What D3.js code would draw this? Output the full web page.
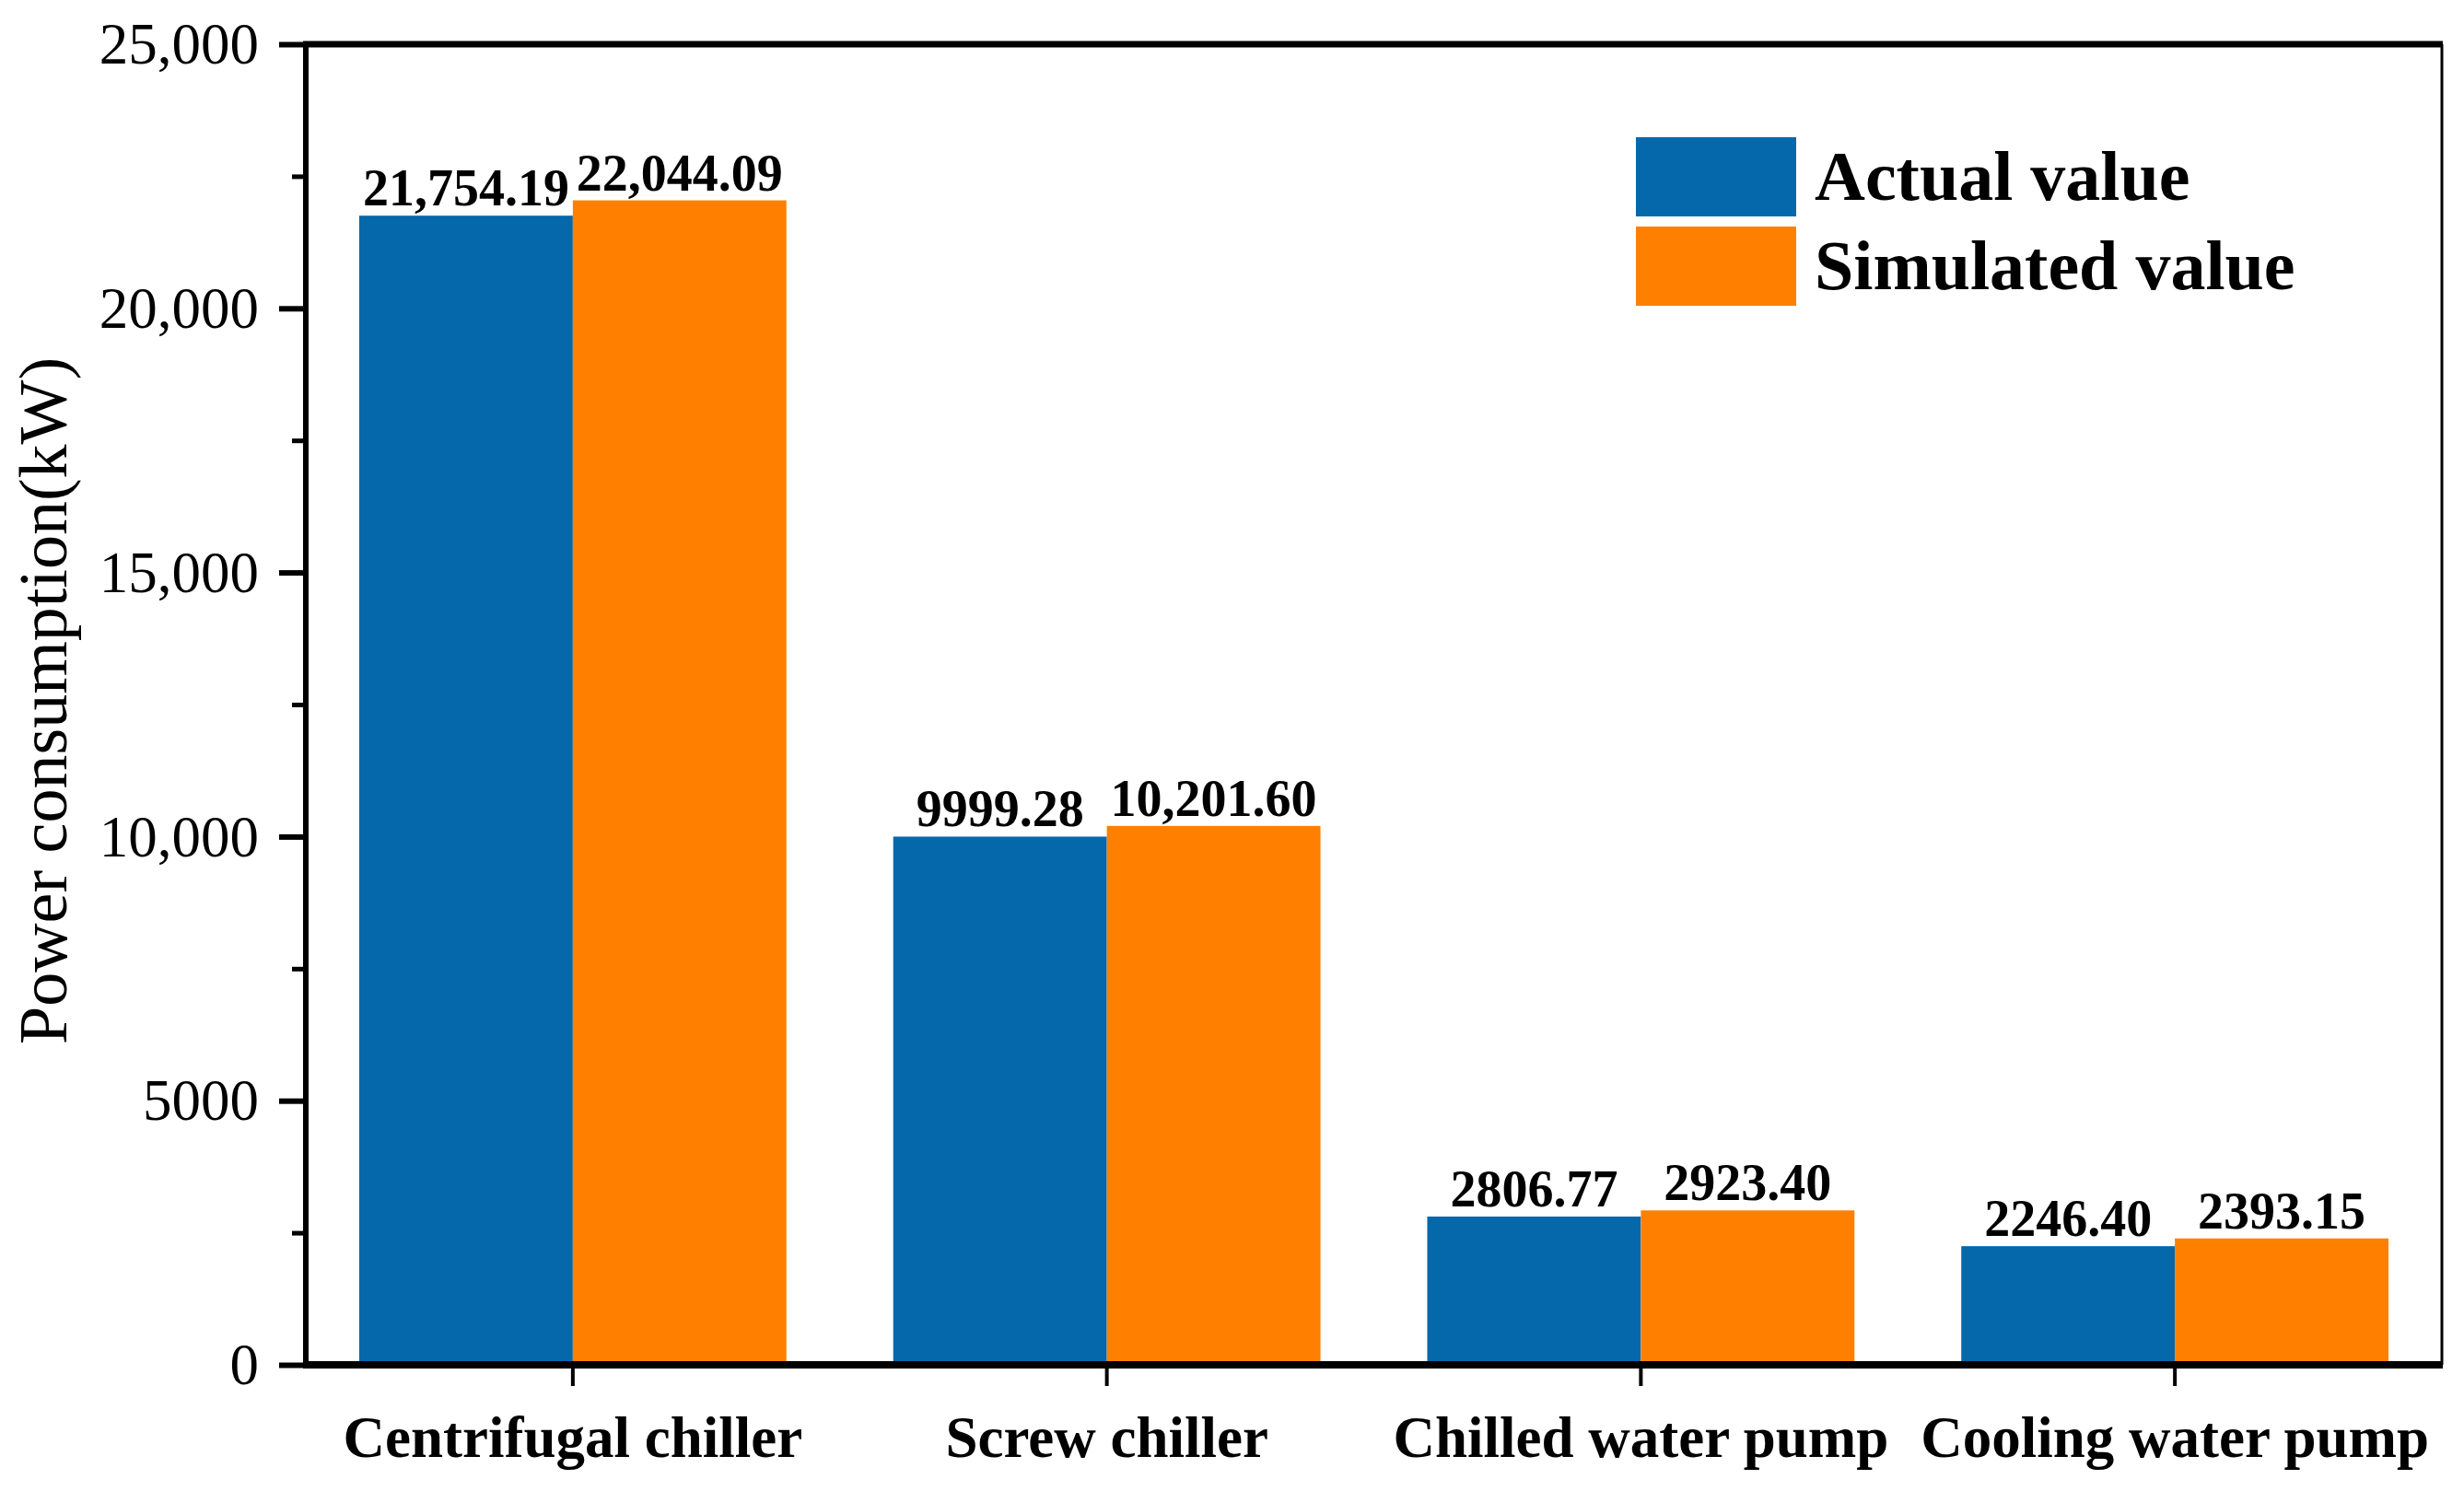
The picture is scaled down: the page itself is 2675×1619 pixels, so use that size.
<!DOCTYPE html>
<html>
<head>
<meta charset="utf-8">
<script src="https://cdn.jsdelivr.net/npm/d3@7"></script>
<style>
  body { margin: 0; background: #fff; }
  text { font-family: "Liberation Serif", "Times New Roman", serif; fill: #000; }
</style>
</head>
<body>
<div id="chart"></div>
<script>
// data
var categories = ["Centrifugal chiller", "Screw chiller", "Chilled water pump", "Cooling water pump"];
var seriesNames = ["Actual value", "Simulated value"];
var actualValues = [21754.19, 9999.28, 2806.77, 2246.40];
var simulatedValues = [22044.09, 10201.60, 2923.40, 2393.15];
var yTicks = [0, 5000, 10000, 15000, 20000, 25000];
var yMinorTicks = [2500, 7500, 12500, 17500, 22500];

var colors = ["#0468ab", "#ff8000"];

// canvas
var svgWidth = 2675;
var svgHeight = 1619;

var plot = { left: 332, right: 2651, top: 48, bottom: 1482 };

var svg = d3.select("#chart")
    .append("svg")
    .attr("width", svgWidth)
    .attr("height", svgHeight);

svg.append("rect")
    .attr("width", svgWidth)
    .attr("height", svgHeight)
    .attr("fill", "#fff");

// scales
var x0 = d3.scaleBand()
    .domain(categories)
    .range([plot.left, plot.right])
    .paddingInner(0.2)
    .paddingOuter(0.1);

var x1 = d3.scaleBand()
    .domain(seriesNames)
    .range([0, x0.bandwidth()]);

var y = d3.scaleLinear()
    .domain([0, 25000])
    .range([plot.bottom, plot.top]);

// label format: comma only for values >= 10,000
function fmtValue(v) {
    return v >= 10000 ? d3.format(",.2f")(v) : d3.format(".2f")(v);
}
function fmtTick(v) {
    return v >= 10000 ? d3.format(",")(v) : d3.format("")(v);
}

// bars
var rows = categories.map(function(c, i) {
    return [
        { cat: c, name: seriesNames[0], value: actualValues[i] },
        { cat: c, name: seriesNames[1], value: simulatedValues[i] }
    ];
});

var groups = svg.append("g").selectAll("g")
    .data(rows)
    .enter().append("g")
    .attr("transform", function(d) { return "translate(" + x0(d[0].cat) + ",0)"; });

groups.selectAll("rect")
    .data(function(d) { return d; })
    .enter().append("rect")
    .attr("x", function(d) { return x1(d.name); })
    .attr("y", function(d) { return y(d.value); })
    .attr("width", x1.bandwidth())
    .attr("height", function(d) { return y(0) - y(d.value); })
    .attr("fill", function(d, i) { return colors[i]; });

groups.selectAll("text")
    .data(function(d) { return d; })
    .enter().append("text")
    .attr("x", function(d) { return x1(d.name) + x1.bandwidth() / 2; })
    .attr("y", function(d) { return y(d.value) - 11; })
    .attr("text-anchor", "middle")
    .style("font-size", "56px")
    .style("font-weight", "bold")
    .text(function(d) { return fmtValue(d.value); });

// y axis (major + minor ticks)
var leftAxis = d3.axisLeft(y)
    .tickValues(yTicks)
    .tickSize(29)
    .tickSizeOuter(0)
    .tickPadding(22)
    .tickFormat(fmtTick);

var yAxisG = svg.append("g")
    .attr("transform", "translate(" + plot.left + ",0)")
    .call(leftAxis);
yAxisG.select(".domain").remove();
yAxisG.selectAll(".tick line").attr("stroke", "#000").attr("stroke-width", 6);
yAxisG.selectAll(".tick text")
    .style("font-size", "63px")
    .attr("dy", "0.33em");

var minorAxis = d3.axisLeft(y)
    .tickValues(yMinorTicks)
    .tickSize(15)
    .tickSizeOuter(0)
    .tickFormat("");
var yMinorG = svg.append("g")
    .attr("transform", "translate(" + plot.left + ",0)")
    .call(minorAxis);
yMinorG.select(".domain").remove();
yMinorG.selectAll(".tick line").attr("stroke", "#000").attr("stroke-width", 5);

// x axis
var bottomAxis = d3.axisBottom(x0)
    .tickSize(23)
    .tickSizeOuter(0)
    .tickPadding(0);

var xAxisG = svg.append("g")
    .attr("transform", "translate(0," + plot.bottom + ")")
    .call(bottomAxis);
xAxisG.select(".domain").remove();
xAxisG.selectAll(".tick line").attr("stroke", "#000").attr("stroke-width", 4);
xAxisG.selectAll(".tick text")
    .attr("y", 100)
    .attr("dy", 0)
    .style("font-size", "63px")
    .style("font-weight", "bold");

// frame
var frame = svg.append("g").attr("stroke", "#000");
frame.append("line")
    .attr("x1", plot.left - 3).attr("x2", plot.right + 1)
    .attr("y1", plot.top).attr("y2", plot.top)
    .attr("stroke-width", 7);
frame.append("line")
    .attr("x1", plot.left - 3).attr("x2", plot.right + 1)
    .attr("y1", plot.bottom).attr("y2", plot.bottom)
    .attr("stroke-width", 8);
frame.append("line")
    .attr("x1", plot.left).attr("x2", plot.left)
    .attr("y1", plot.top).attr("y2", plot.bottom)
    .attr("stroke-width", 6);
frame.append("line")
    .attr("x1", plot.right).attr("x2", plot.right)
    .attr("y1", plot.top).attr("y2", plot.bottom)
    .attr("stroke-width", 3);

// y axis title
svg.append("text")
    .attr("transform", "translate(72,761) rotate(-90)")
    .attr("text-anchor", "middle")
    .style("font-size", "74px")
    .text("Power consumption(kW)");

// legend
var legend = svg.append("g")
    .attr("transform", "translate(1776,149)");

var legendItems = legend.selectAll("g")
    .data(seriesNames)
    .enter().append("g")
    .attr("transform", function(d, i) { return "translate(0," + (i * 97) + ")"; });

legendItems.append("rect")
    .attr("width", 174)
    .attr("height", 86)
    .attr("fill", function(d, i) { return colors[i]; });

legendItems.append("text")
    .attr("x", 194)
    .attr("y", 68)
    .style("font-size", "76px")
    .style("font-weight", "bold")
    .text(function(d) { return d; });
</script>
</body>
</html>
